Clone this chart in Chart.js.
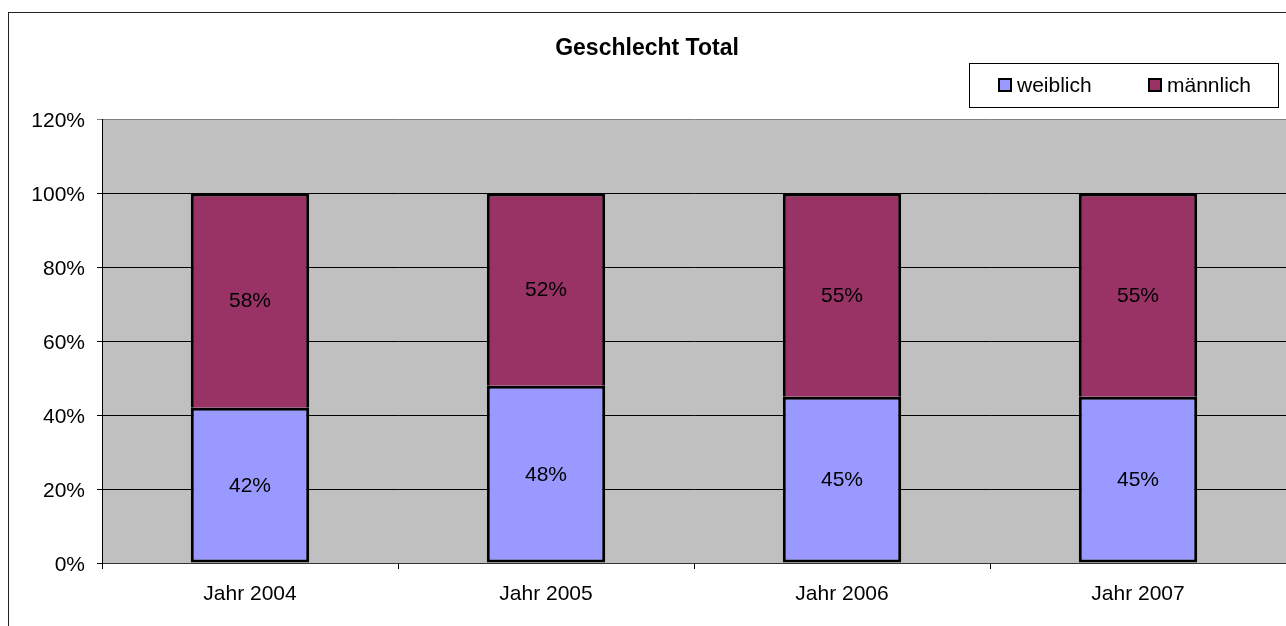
<!DOCTYPE html>
<html>
<head>
<meta charset="utf-8">
<script src="https://cdn.jsdelivr.net/npm/chart.js@4/dist/chart.umd.min.js"></script>
<style>
  body { margin: 0; background: #fff; }
  canvas { display: block; }
</style>
</head>
<body>
<canvas id="chart" width="1286" height="626"></canvas>
<script>
const categories = ['Jahr 2004', 'Jahr 2005', 'Jahr 2006', 'Jahr 2007'];
const weiblich = [0.42, 0.48, 0.45, 0.45];
const maennlich = [0.58, 0.52, 0.55, 0.55];
const seriesNames = ['weiblich', 'männlich'];
const yTicks = [0, 0.2, 0.4, 0.6, 0.8, 1.0, 1.2];

const FONT = 'Arial, "Liberation Sans", sans-serif';

// gray plot area + outer frame
const backdrop = {
    id: 'backdrop',
    beforeDraw(chart) {
        const ctx = chart.ctx;
        const a = chart.chartArea;
        ctx.save();
        ctx.fillStyle = '#fff';
        ctx.fillRect(0, 0, chart.width, chart.height);
        ctx.fillStyle = '#C0C0C0';
        ctx.fillRect(a.left, a.top, a.right - a.left, a.bottom - a.top);
        ctx.strokeStyle = '#222';
        ctx.lineWidth = 1;
        ctx.strokeRect(8.5, 12.5, chart.width + 20, chart.height + 20);
        ctx.restore();
    }
};

// value labels centred in each segment
const segLabels = {
    id: 'segLabels',
    afterDatasetsDraw(chart) {
        const ctx = chart.ctx;
        ctx.save();
        ctx.font = '21px ' + FONT;
        ctx.fillStyle = '#000';
        ctx.textAlign = 'center';
        ctx.textBaseline = 'middle';
        chart.data.datasets.forEach((ds, i) => {
            chart.getDatasetMeta(i).data.forEach((bar, j) => {
                const p = bar.getProps(['x', 'y', 'base'], true);
                ctx.fillText(Math.round(ds.data[j] * 100) + '%', p.x, (p.y + p.base) / 2 + 1);
            });
        });
        ctx.restore();
    }
};

// boxed legend, top right
const boxLegend = {
    id: 'boxLegend',
    afterDraw(chart) {
        const ctx = chart.ctx;
        ctx.save();
        ctx.fillStyle = '#fff';
        ctx.fillRect(969, 63, 309, 44);
        ctx.strokeStyle = '#000';
        ctx.lineWidth = 1;
        ctx.strokeRect(969.5, 63.5, 309, 44);
        ctx.font = '21px ' + FONT;
        ctx.textBaseline = 'middle';
        ctx.textAlign = 'left';
        const xs = [998, 1148];
        chart.data.datasets.forEach((ds, i) => {
            ctx.fillStyle = ds.backgroundColor;
            ctx.fillRect(xs[i], 78, 14, 14);
            ctx.lineWidth = 2;
            ctx.strokeStyle = '#000';
            ctx.strokeRect(xs[i] + 1, 79, 12, 12);
            ctx.fillStyle = '#000';
            ctx.fillText(ds.label, xs[i] + 19, 86);
        });
        ctx.restore();
    }
};

new Chart(document.getElementById('chart'), {
    type: 'bar',
    data: {
        labels: categories,
        datasets: [
            {
                label: seriesNames[0],
                data: weiblich,
                backgroundColor: '#9999FF',
                borderColor: '#000',
                borderWidth: 3,
                borderSkipped: false
            },
            {
                label: seriesNames[1],
                data: maennlich,
                backgroundColor: '#993366',
                borderColor: '#000',
                borderWidth: 3
            }
        ]
    },
    options: {
        responsive: false,
        animation: false,
        categoryPercentage: 0.4,
        barPercentage: 1,
        layout: { padding: { left: 8, right: 0, top: 0, bottom: 0 } },
        plugins: {
            legend: { display: false },
            tooltip: { enabled: false },
            title: {
                display: true,
                text: 'Geschlecht Total',
                color: '#000',
                font: { family: FONT, size: 23, weight: 'bold', lineHeight: 1.2 },
                padding: { top: 35, bottom: 57 }
            }
        },
        scales: {
            x: {
                stacked: true,
                offset: true,
                grid: {
                    offset: true,
                    drawOnChartArea: false,
                    tickLength: 6,
                    color: '#000'
                },
                border: { color: '#333', width: 1 },
                ticks: {
                    color: '#000',
                    padding: 13,
                    font: { family: FONT, size: 21 }
                },
                afterFit(scale) { scale.height = 63; }
            },
            y: {
                stacked: true,
                min: 0,
                max: 1.2,
                afterBuildTicks(scale) {
                    scale.ticks = yTicks.map(v => ({ value: v }));
                },
                grid: {
                    color: ctx => (ctx.tick && ctx.tick.value >= 1.19 ? '#808080' : '#000'),
                    lineWidth: 1,
                    tickLength: 5
                },
                border: { color: '#000', width: 1 },
                ticks: {
                    color: '#000',
                    padding: 12,
                    labelOffset: 2,
                    font: { family: FONT, size: 21 },
                    callback: v => Math.round(v * 100) + '%'
                },
                afterFit(scale) { scale.width = 94; }
            }
        }
    },
    plugins: [backdrop, segLabels, boxLegend]
});
</script>
</body>
</html>
